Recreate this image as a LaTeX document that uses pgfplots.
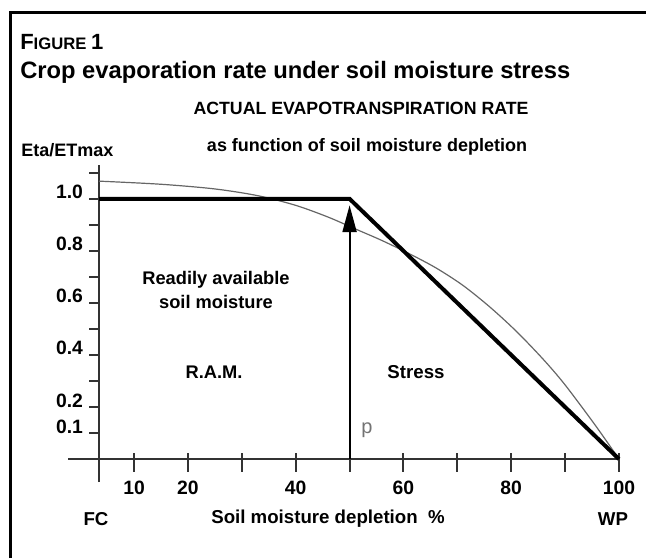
\documentclass[border=0pt]{standalone}
\usepackage{fontspec}
\setmainfont{Liberation Sans}
\usepackage{pgfplots}
\pgfplotsset{compat=1.18}
\usetikzlibrary{arrows.meta}

\begin{document}
\begin{tikzpicture}
\begin{axis}[
  at={(74.25pt,57pt)}, anchor=south west,
  scale only axis, width=390pt, height=237.75pt,
  xmin=3.5, xmax=100, ymin=-0.088, ymax=1.13,
  axis x line=middle, axis y line=left,
  axis line style={-, line width=1.5pt, black!80},
  clip=false,
  xtick={10,20,...,100},
  xticklabels={10,20,,40,,60,,80,,100},
  tick align=center, major tick length=14.25pt,
  xtick style={line width=1.5pt, black!80, yshift=-2.25pt},
  xticklabel style={font=\fontsize{14.5}{14}\selectfont\bfseries, yshift=-6pt},
  ytick=\empty,
  extra y ticks={0.1,0.2,0.3,0.4,0.5,0.6,0.7,0.8,0.9,1.0,1.1},
  extra y tick labels={0.1,0.2,,0.4,,0.6,,0.8,,1.0,},
  extra y tick style={major tick length=7.5pt, tick align=outside,
    tick style={line width=1.5pt, black!80},
    yticklabel style={anchor=base east, font=\fontsize{14.5}{14}\selectfont\bfseries, xshift=-1pt}},
]
% x axis runs a little to the left of the y axis
\addplot[black!80, line width=1.5pt, forget plot] coordinates {(-2.2,0) (3.5,0)};
% thin curve (hand drawn)
\addplot[black!60, line width=0.9pt, smooth, tension=0.5] coordinates {
(3.5,1.068) (15,1.056) (25,1.038) (33,1.012) (40,0.975) (46,0.930)
(51,0.885) (56,0.840) (61,0.790) (66,0.735) (71,0.668) (76,0.585)
(81,0.490) (86,0.382) (90,0.285) (95.6,0.130) (100,0)
};
% thick piecewise line
\addplot[black, line width=3pt] coordinates {(3.5,1) (50,1) (100,0)};
% p arrow
\addplot[black, line width=1.4pt, -{Triangle[width=10.5pt,length=20pt]}] coordinates {(50,0) (50,0.975)};
\end{axis}

\begin{scope}[x=0.75pt, y=-0.75pt, shift={(0pt,418.5pt)}]
\path[use as bounding box] (0,0) rectangle (646,558);
\draw[line width=2.25pt] (10,558) -- (10,13) -- (646,13);
\node[anchor=west, inner sep=0pt, font=\bfseries] at (20,42)
  {\fontsize{16.5}{16}\selectfont F\fontsize{12.5}{12}\selectfont IGURE \fontsize{16.5}{16}\selectfont 1};
\node[anchor=west, inner sep=0pt, font=\fontsize{17.8}{18}\selectfont\bfseries] at (20,72)
  {Crop evaporation rate under soil moisture stress};
\node[inner sep=0pt, font=\fontsize{13.3}{14}\selectfont\bfseries] at (361,108)
  {ACTUAL EVAPOTRANSPIRATION RATE};
\node[anchor=west, inner sep=0pt, font=\fontsize{13.5}{14}\selectfont\bfseries] at (21,150)
  {Eta/ETmax};
\node[inner sep=0pt, font=\fontsize{13.5}{14}\selectfont\bfseries] at (367,147)
  {as function of soil moisture depletion};
\node[inner sep=0pt, font=\fontsize{13.7}{14}\selectfont\bfseries] at (216,280) {Readily available};
\node[inner sep=0pt, font=\fontsize{13.7}{14}\selectfont\bfseries] at (216,302) {soil moisture};
\node[inner sep=0pt, font=\fontsize{13.7}{14}\selectfont\bfseries] at (214,372) {R.A.M.};
\node[inner sep=0pt, font=\fontsize{14}{14}\selectfont\bfseries] at (416,372) {Stress};
\node[inner sep=0pt, text=black!55, font=\fontsize{15}{15}\selectfont] at (367,430) {p};
\node[inner sep=0pt, font=\fontsize{14}{14}\selectfont\bfseries] at (96,519) {FC};
\node[inner sep=0pt, font=\fontsize{14}{14}\selectfont\bfseries] at (328,519) {Soil moisture depletion\ \ \%};
\node[inner sep=0pt, font=\fontsize{14}{14}\selectfont\bfseries] at (613,519) {WP};
\end{scope}
\end{tikzpicture}
\end{document}
